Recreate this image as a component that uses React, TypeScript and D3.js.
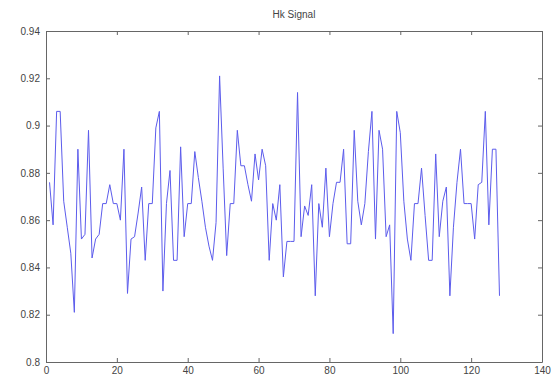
import React, { useEffect, useRef } from "react";
import * as d3 from "d3";

const title = "Hk Signal";
const xTicks = [0, 20, 40, 60, 80, 100, 120, 140];
const yTicks = [0.8, 0.82, 0.84, 0.86, 0.88, 0.9, 0.92, 0.94];
const signal = [
  0.876, 0.858, 0.906, 0.906, 0.868, 0.857, 0.846, 0.821, 0.89, 0.852,
  0.854, 0.898, 0.844, 0.852, 0.854, 0.867, 0.867, 0.875, 0.867, 0.867,
  0.86, 0.89, 0.829, 0.852, 0.853, 0.863, 0.874, 0.843, 0.867, 0.867,
  0.899, 0.906, 0.83, 0.867, 0.881, 0.843, 0.843, 0.891, 0.853, 0.867,
  0.867, 0.889, 0.878, 0.868, 0.857, 0.849, 0.843, 0.859, 0.921, 0.882,
  0.845, 0.867, 0.867, 0.898, 0.883, 0.883, 0.875, 0.868, 0.888, 0.877,
  0.89, 0.883, 0.843, 0.867, 0.86, 0.875, 0.836, 0.851, 0.851, 0.851,
  0.914, 0.853, 0.866, 0.862, 0.875, 0.828, 0.867, 0.857, 0.882, 0.853,
  0.867, 0.876, 0.876, 0.89, 0.85, 0.85, 0.898, 0.868, 0.858, 0.867,
  0.889, 0.906, 0.852, 0.898, 0.89, 0.853, 0.858, 0.812, 0.906, 0.897,
  0.868, 0.852, 0.843, 0.867, 0.867, 0.882, 0.862, 0.843, 0.843, 0.888,
  0.853, 0.868, 0.874, 0.828, 0.857, 0.876, 0.89, 0.867, 0.867, 0.867,
  0.852, 0.875, 0.876, 0.906, 0.858, 0.89, 0.89, 0.828,
];

export default function App() {
  const ref = useRef<SVGSVGElement>(null);

  useEffect(() => {
    const width = 551;
    const height = 379;
    const margin = { top: 31, right: 9, bottom: 17, left: 46 };

    const svg = d3.select(ref.current);
    svg.selectAll("*").remove();

    const x = d3
      .scaleLinear()
      .domain([0, 140])
      .range([margin.left, width - margin.right]);
    const y = d3
      .scaleLinear()
      .domain([0.8, 0.94])
      .range([height - margin.bottom, margin.top]);

    svg.append("rect").attr("width", width).attr("height", height).attr("fill", "#fff");

    const axisColor = "#666";
    const font = "Liberation Sans, Arial, sans-serif";

    // ticks pointing inward, on all four sides
    const bottom = svg
      .append("g")
      .attr("transform", `translate(0,${y(0.8)})`)
      .call(d3.axisBottom(x).tickValues(xTicks).tickSizeInner(-4).tickSizeOuter(0).tickPadding(5));
    const top = svg
      .append("g")
      .attr("transform", `translate(0,${y(0.94)})`)
      .call(d3.axisTop(x).tickValues(xTicks).tickSizeInner(-4).tickSizeOuter(0).tickFormat(() => ""));
    const left = svg
      .append("g")
      .attr("transform", `translate(${x(0)},0)`)
      .call(
        d3.axisLeft(y).tickValues(yTicks).tickSizeInner(-4).tickSizeOuter(0).tickPadding(6)
          .tickFormat((d) => String(+(+d).toFixed(2)))
      );
    const right = svg
      .append("g")
      .attr("transform", `translate(${x(140)},0)`)
      .call(d3.axisRight(y).tickValues(yTicks).tickSizeInner(-4).tickSizeOuter(0).tickFormat(() => ""));

    [bottom, top, left, right].forEach((g) => {
      g.selectAll("path, line").attr("stroke", axisColor);
      g.selectAll("text")
        .attr("fill", "#444")
        .style("font-family", font)
        .style("font-size", "10px");
    });

    const line = d3
      .line<number>()
      .x((_, i) => x(i + 1))
      .y((d) => y(d));

    svg
      .append("path")
      .datum(signal)
      .attr("d", line)
      .attr("fill", "none")
      .attr("stroke", "#5c5cec")
      .attr("stroke-width", 1);

    svg
      .append("text")
      .attr("x", (x(0) + x(140)) / 2)
      .attr("y", 18)
      .attr("text-anchor", "middle")
      .attr("fill", "#444")
      .style("font-family", font)
      .style("font-size", "10px")
      .text(title);
  }, []);

  return (
    <svg
      ref={ref}
      width={551}
      height={379}
      style={{ position: "absolute", left: 0, top: 0 }}
    />
  );
}
